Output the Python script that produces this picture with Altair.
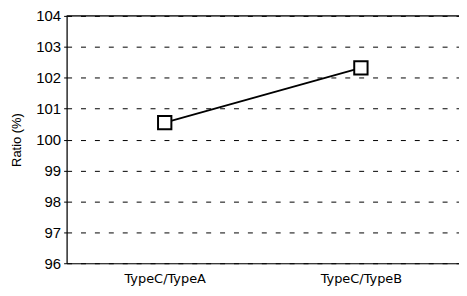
import altair as alt
import pandas as pd

categories = ["TypeC/TypeA", "TypeC/TypeB"]
ratios = [100.55, 102.32]
y_ticks = [96, 97, 98, 99, 100, 101, 102, 103, 104]

df = pd.DataFrame({"cat": categories, "ratio": ratios})

x_axis = alt.Axis(title=None, ticks=False, labelAngle=0, labelPadding=9,
                  labelFont="DejaVu Sans", labelFontSize=13, labelColor="black",
                  domainColor="black", domainWidth=1.2, grid=False)
y_axis = alt.Axis(title="Ratio (%)", values=y_ticks, tickSize=3, labelOverlap=False,
                  tickColor="black", labelFont="Liberation Sans", labelFontSize=15,
                  labelColor="black", labelPadding=3, titleFont="Liberation Sans",
                  titleFontSize=13, titleFontWeight="normal", titleColor="black",
                  titlePadding=12, domainColor="black", domainWidth=1.2,
                  grid=True, gridColor="black", gridDash=[5, 9], gridWidth=1)
y_scale = alt.Scale(domain=[96, 104], nice=False, zero=False)

x_enc = alt.X("cat:N", sort=categories, scale=alt.Scale(type="point", padding=0.5), axis=x_axis)
y_enc = alt.Y("ratio:Q", scale=y_scale, axis=y_axis)

base = alt.Chart(df)
line = base.mark_line(color="black", strokeWidth=1.8).encode(x=x_enc, y=y_enc)
pts = base.mark_point(shape="square", size=180, filled=False, color="black",
                      fill="white", fillOpacity=1, strokeWidth=2, opacity=1).encode(x=x_enc, y=y_enc)
top = alt.Chart(pd.DataFrame({"ratio": [104]})).mark_rule(color="black", strokeWidth=1.2).encode(
    y=alt.Y("ratio:Q", scale=y_scale, axis=y_axis))

chart = alt.layer(line, pts, top).properties(
    width=395, height=249,
    autosize=alt.AutoSizeParams(type="none"),
    padding={"left": 59, "top": 7, "right": 0, "bottom": 24},
).configure_view(stroke=None).configure(background="white")

chart.save("out.html", embed_options={"renderer": "svg", "actions": False})
